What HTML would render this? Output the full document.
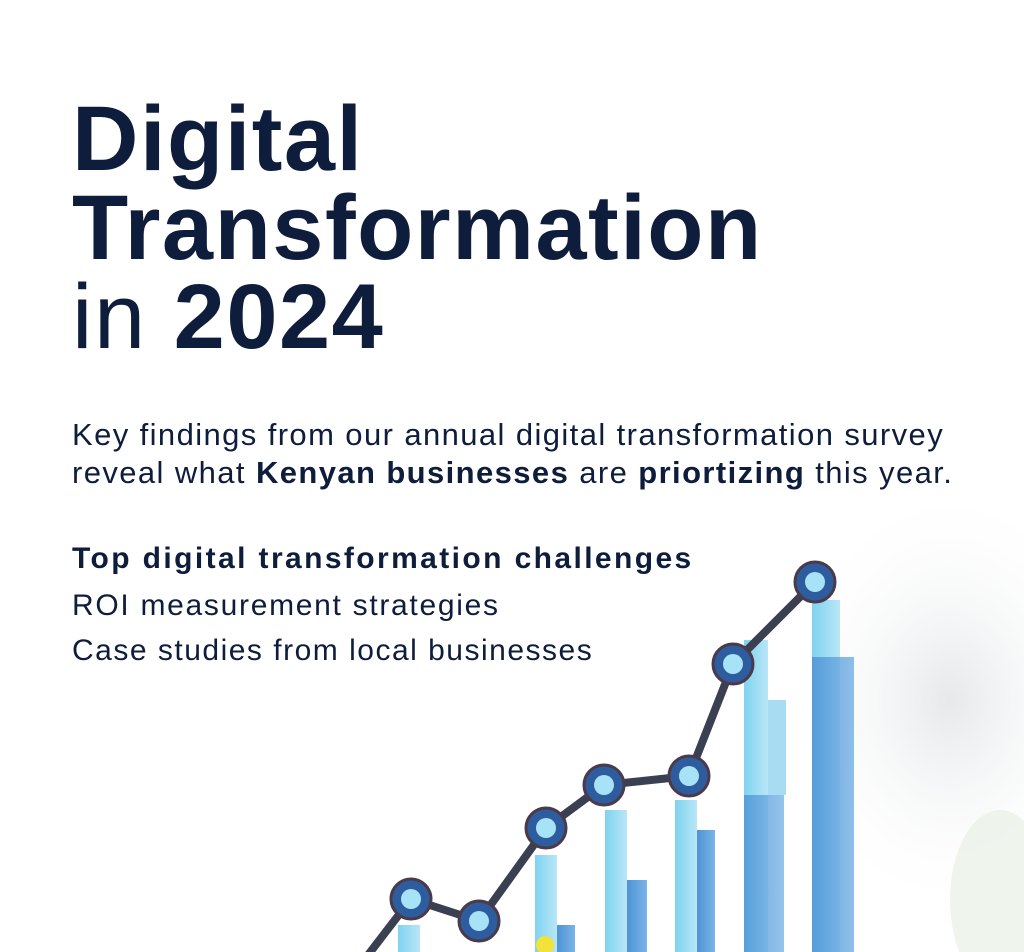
<!DOCTYPE html>
<html><head><style>
html,body{margin:0;padding:0}
body{width:1024px;height:952px;overflow:hidden;background:#fff;position:relative;font-family:"Liberation Sans",sans-serif;color:#0f1d3c}
.t{position:absolute;left:72px;white-space:nowrap}
.h{font-weight:bold;font-size:92px;letter-spacing:1.5px;line-height:1}
svg{position:absolute;left:0;top:0}
</style></head><body>
<svg width="1024" height="952">
<defs>
<radialGradient id="bg" cx="0.5" cy="0.5" r="0.5"><stop offset="0" stop-color="#e6e8ea"/><stop offset="1" stop-color="#fff" stop-opacity="0"/></radialGradient>
<linearGradient id="lb" x1="0" x2="1"><stop offset="0" stop-color="#7fd3f0"/><stop offset="1" stop-color="#b9e6f7"/></linearGradient>
<linearGradient id="db" x1="0" x2="1"><stop offset="0" stop-color="#4d93d6"/><stop offset="1" stop-color="#7ab4e6"/></linearGradient>
</defs>
<ellipse cx="950" cy="700" rx="170" ry="220" fill="url(#bg)"/>
<ellipse cx="1000" cy="900" rx="50" ry="90" fill="#e8f0e6" opacity="0.7"/>
<g>
<rect x="398" y="925" width="22" height="27" fill="url(#lb)"/>
<rect x="535" y="855" width="22" height="97" fill="url(#lb)"/>
<rect x="557" y="925" width="18" height="27" fill="url(#db)"/>
<rect x="605" y="810" width="22" height="142" fill="url(#lb)"/>
<rect x="627" y="880" width="20" height="72" fill="url(#db)"/>
<rect x="675" y="800" width="22" height="152" fill="url(#lb)"/>
<rect x="697" y="830" width="18" height="122" fill="url(#db)"/>
<rect x="744" y="640" width="24" height="312" fill="url(#lb)"/>
<rect x="744" y="795" width="40" height="157" fill="url(#db)" opacity="0.8"/>
<rect x="768" y="700" width="18" height="95" fill="#a8dcf3"/>
<rect x="812" y="600" width="28" height="352" fill="url(#lb)"/>
<rect x="812" y="657" width="42" height="295" fill="url(#db)" opacity="0.85"/>
<circle cx="545" cy="945" r="9" fill="#f2e23a"/>
</g>
<polyline points="368,955 411,899 479,921 505,885 546,828 604,785 689,776 733,664 815,582" fill="none" stroke="#3b3f52" stroke-width="8" stroke-linejoin="round"/>
<g fill="#2d5d9e" stroke="#4a3a4a" stroke-width="3">
<circle cx="411" cy="899" r="20"/><circle cx="479" cy="921" r="20"/><circle cx="546" cy="828" r="20"/><circle cx="604" cy="785" r="20"/><circle cx="689" cy="776" r="20"/><circle cx="733" cy="664" r="20"/><circle cx="815" cy="582" r="20"/>
</g>
<g fill="#a8e2f7">
<circle cx="411" cy="899" r="10"/><circle cx="479" cy="921" r="10"/><circle cx="546" cy="828" r="10"/><circle cx="604" cy="785" r="10"/><circle cx="689" cy="776" r="10"/><circle cx="733" cy="664" r="10"/><circle cx="815" cy="582" r="10"/>
</g>
</svg>
<div class="t h" style="top:93px">Digital</div>
<div class="t h" style="top:182px">Transformation</div>
<div class="t h" style="top:271px"><span style="font-weight:normal">in</span> 2024</div>
<div class="t" style="top:416px;font-size:31px;line-height:38px;letter-spacing:1.4px">Key findings from our annual digital transformation survey<br>reveal what <b>Kenyan businesses</b> are <b>priortizing</b> this year.</div>
<div class="t" style="top:542px;font-size:30px;font-weight:bold;letter-spacing:2.4px">Top digital transformation challenges</div>
<div class="t" style="top:589px;font-size:30px;letter-spacing:1.7px">ROI measurement strategies</div>
<div class="t" style="top:634px;font-size:30px;letter-spacing:1.5px">Case studies from local businesses</div>
</body></html>
